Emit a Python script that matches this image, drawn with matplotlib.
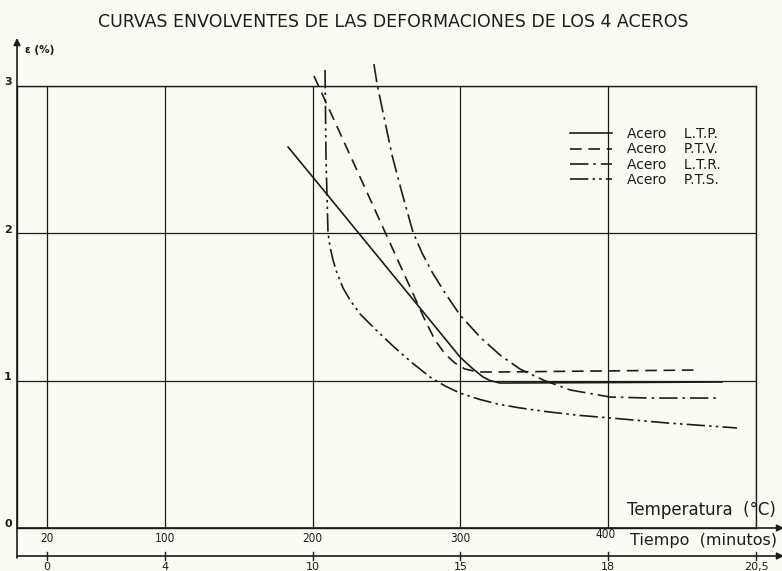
import matplotlib
matplotlib.use("Agg")
import matplotlib.pyplot as plt

# --- data ---
# temperature (°C) / strain (%) points along each envelope curve
ltp_temp = [183.4, 208.4, 230.0, 254.4, 272.7, 299.7, 307.8, 315.3, 320.0, 326.8, 400.0, 477.0]
ltp_eps = [2.586, 2.281, 2.016, 1.717, 1.493, 1.161, 1.086, 1.025, 1.001, 0.984, 0.987, 0.991]

ptv_temp = [200.9, 225.3, 249.0, 265.9, 276.0, 282.8, 289.6, 296.3, 303.1, 311.9, 326.8, 458.7]
ptv_eps = [3.068, 2.532, 2.009, 1.636, 1.412, 1.276, 1.181, 1.120, 1.079, 1.059, 1.059, 1.072]

ltr_temp = [241.5, 243.6, 253.7, 260.5, 267.9, 274.0, 280.8, 289.6, 299.7, 313.3, 326.8,
            340.3, 355.9, 374.2, 401.2, 428.3, 474.3]
ltr_eps = [3.149, 3.014, 2.532, 2.274, 2.009, 1.867, 1.738, 1.595, 1.446, 1.296, 1.174,
           1.079, 1.005, 0.937, 0.889, 0.882, 0.882]

pts_temp = [208.4, 209.1, 210.4, 211.8, 213.8, 216.5, 220.6, 225.3, 232.1, 242.2, 254.4,
            265.9, 279.4, 289.6, 299.7, 313.3, 326.8, 340.3, 357.2, 380.9, 401.2, 439.8, 487.1]
pts_eps = [3.109, 2.498, 2.009, 1.907, 1.819, 1.731, 1.629, 1.548, 1.453, 1.351, 1.235,
           1.133, 1.025, 0.964, 0.916, 0.872, 0.838, 0.815, 0.791, 0.764, 0.747, 0.713, 0.679]

steel_names = ["L.T.P.", "P.T.V.", "L.T.R.", "P.T.S."]

temp_ticks = [20, 100, 200, 300, 400, 500]
temp_labels = ["20", "100", "200", "300", "400", ""]
time_labels = ["0", "4", "10", "15", "18", "20,5"]
eps_ticks = [0, 1, 2, 3]

INK = "#1c1c1c"
PAPER = "#fcfbf3"

fig = plt.figure(figsize=(7.82, 5.71), dpi=100, facecolor=PAPER)
W, H = 782, 571
# axes box: T 0..500 -> px 17..756, eps 0..3 -> px 528..86
ax = fig.add_axes([17 / W, (H - 528) / H, 739 / W, 442 / H])
ax.set_facecolor(PAPER)
ax.set_xlim(0, 500)
ax.set_ylim(0, 3)

for s in ax.spines.values():
    s.set_color(INK)
    s.set_linewidth(1.0)

ax.set_xticks(temp_ticks)
ax.set_yticks(eps_ticks)
ax.set_xticklabels([])
ax.set_yticklabels([])
ax.tick_params(length=0)
ax.grid(True, color=INK, linewidth=0.9)

styles = ["-", (0, (7, 4)), (0, (11, 3, 1.5, 3)), (0, (11, 2.5, 1.5, 2.5, 1.5, 2.5))]
curves = [(ltp_temp, ltp_eps), (ptv_temp, ptv_eps), (ltr_temp, ltr_eps), (pts_temp, pts_eps)]
handles = []
for (t, e), ls, name in zip(curves, styles, steel_names):
    ln, = ax.plot(t, e, color=INK, linewidth=1.2, linestyle=ls, clip_on=False,
                  solid_joinstyle="round", label=f"Acero    {name}")
    handles.append(ln)

leg = ax.legend(handles=handles, loc="upper left", bbox_to_anchor=(570 / W, 1 - 127 / H),
                bbox_transform=fig.transFigure, frameon=False, fontsize=10,
                handlelength=3.0, handletextpad=1.1, labelspacing=0.1,
                borderpad=0, borderaxespad=0)
for txt in leg.get_texts():
    txt.set_color(INK)

# axes arrows (y axis, temperature axis, time axis)
px_to_T = lambda x: (x - 17) / 1.478
px_to_e = lambda y: (528 - y) / 147.33
arrow = dict(arrowstyle="-|>", color=INK, lw=1.2, mutation_scale=10, shrinkA=0, shrinkB=0)
ax.annotate("", xy=(0, px_to_e(38)), xytext=(0, px_to_e(558)), arrowprops=arrow,
            annotation_clip=False)
ax.annotate("", xy=(px_to_T(784), 0), xytext=(0, 0), arrowprops=arrow, annotation_clip=False)
t_axis = px_to_e(556)
ax.annotate("", xy=(px_to_T(784), t_axis), xytext=(0, t_axis), arrowprops=arrow,
            annotation_clip=False)
for t in temp_ticks:
    ax.plot([t, t], [t_axis - 0.025, t_axis + 0.025], color=INK, lw=1.0, clip_on=False)

# tick labels
for t, lab in zip(temp_ticks, temp_labels):
    yy = 534 if t == 400 else 538
    dx = -3 if t == 400 else 0
    ax.text(t + dx / 1.478, px_to_e(yy), lab, ha="center", va="center", fontsize=8.5,
            color=INK, fontstretch="condensed")
for t, lab in zip(temp_ticks, time_labels):
    ax.text(t, px_to_e(570), lab, ha="center", va="baseline", fontsize=8, color=INK)
for v in eps_ticks:
    ax.text(px_to_T(8), v + 0.025, str(v), ha="center", va="center", fontsize=8,
            fontweight="bold", color=INK)

ax.text(px_to_T(25), px_to_e(50), "ε (%)", ha="left", va="center", fontsize=7.5,
        fontweight="bold", color=INK)
ax.text(px_to_T(627), px_to_e(510), "Temperatura  (°C)", ha="left", va="center",
        fontsize=12, color=INK)
ax.text(px_to_T(630), px_to_e(540), "Tiempo  (minutos)", ha="left", va="center",
        fontsize=11.5, color=INK)

fig.text(393 / W, 1 - 22 / H, "CURVAS ENVOLVENTES DE LAS DEFORMACIONES DE LOS 4 ACEROS",
         ha="center", va="center", fontsize=12.5, color=INK)

fig.savefig("out.png", dpi=100, facecolor=PAPER)
